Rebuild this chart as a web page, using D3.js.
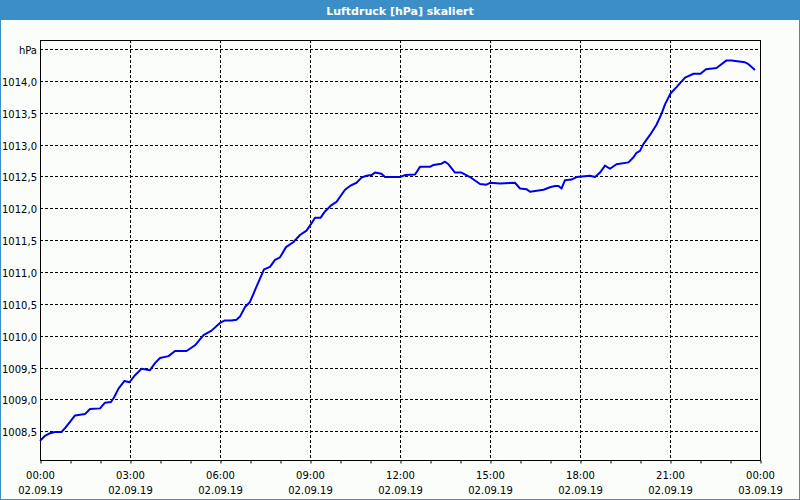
<!DOCTYPE html>
<html>
<head>
<meta charset="utf-8">
<script src="https://cdn.jsdelivr.net/npm/d3@7"></script>
<style>
  html, body { margin: 0; padding: 0; background: #fff; }
  svg { display: block; }
  text { font-family: "DejaVu Sans", sans-serif; }
</style>
</head>
<body>
<script>
// ---- Data ----
const chartTitle = "Luftdruck [hPa] skaliert";
const unitLabel = "hPa";
const times = ["2019-09-02 00:00","2019-09-02 00:10","2019-09-02 00:20","2019-09-02 00:30","2019-09-02 00:43","2019-09-02 00:50",
 "2019-09-02 01:00","2019-09-02 01:10","2019-09-02 01:20","2019-09-02 01:30","2019-09-02 01:40","2019-09-02 02:00","2019-09-02 02:10",
 "2019-09-02 02:22","2019-09-02 02:28","2019-09-02 02:37","2019-09-02 02:49","2019-09-02 02:59","2019-09-02 03:10","2019-09-02 03:23",
 "2019-09-02 03:40","2019-09-02 03:50","2019-09-02 04:00","2019-09-02 04:17","2019-09-02 04:30","2019-09-02 04:53","2019-09-02 05:10",
 "2019-09-02 05:27","2019-09-02 05:43","2019-09-02 06:00","2019-09-02 06:10","2019-09-02 06:23","2019-09-02 06:33","2019-09-02 06:40",
 "2019-09-02 06:50","2019-09-02 07:00","2019-09-02 07:13","2019-09-02 07:28","2019-09-02 07:40","2019-09-02 07:50","2019-09-02 08:00",
 "2019-09-02 08:12","2019-09-02 08:27","2019-09-02 08:40","2019-09-02 08:53","2019-09-02 09:02","2019-09-02 09:10","2019-09-02 09:21",
 "2019-09-02 09:30","2019-09-02 09:43","2019-09-02 09:53","2019-09-02 10:10","2019-09-02 10:20","2019-09-02 10:33","2019-09-02 10:43",
 "2019-09-02 10:53","2019-09-02 11:03","2019-09-02 11:10","2019-09-02 11:23","2019-09-02 11:30","2019-09-02 12:00","2019-09-02 12:10",
 "2019-09-02 12:30","2019-09-02 12:40","2019-09-02 13:00","2019-09-02 13:07","2019-09-02 13:23","2019-09-02 13:30","2019-09-02 13:37",
 "2019-09-02 13:50","2019-09-02 14:03","2019-09-02 14:20","2019-09-02 14:40","2019-09-02 14:53","2019-09-02 15:00","2019-09-02 15:20",
 "2019-09-02 15:50","2019-09-02 16:00","2019-09-02 16:13","2019-09-02 16:20","2019-09-02 16:47","2019-09-02 17:00","2019-09-02 17:10",
 "2019-09-02 17:17","2019-09-02 17:23","2019-09-02 17:30","2019-09-02 17:43","2019-09-02 17:53","2019-09-02 18:20","2019-09-02 18:30",
 "2019-09-02 18:40","2019-09-02 18:50","2019-09-02 19:00","2019-09-02 19:13","2019-09-02 19:37","2019-09-02 19:47","2019-09-02 19:53",
 "2019-09-02 20:00","2019-09-02 20:07","2019-09-02 20:20","2019-09-02 20:33","2019-09-02 20:43","2019-09-02 20:50","2019-09-02 21:01",
 "2019-09-02 21:13","2019-09-02 21:30","2019-09-02 21:47","2019-09-02 22:01","2019-09-02 22:12","2019-09-02 22:33","2019-09-02 22:53",
 "2019-09-02 23:03","2019-09-02 23:30","2019-09-02 23:37","2019-09-02 23:50"];
const values = [1008.35,1008.43,1008.47,1008.49,1008.49,1008.55,
 1008.65,1008.75,1008.76,1008.77,1008.85,1008.86,1008.95,
 1008.96,1009.03,1009.17,1009.29,1009.27,1009.38,1009.48,
 1009.46,1009.57,1009.65,1009.68,1009.76,1009.76,1009.85,
 1010.01,1010.08,1010.20,1010.24,1010.24,1010.25,1010.30,
 1010.45,1010.53,1010.77,1011.04,1011.08,1011.19,1011.23,
 1011.39,1011.47,1011.58,1011.65,1011.75,1011.85,1011.85,
 1011.95,1012.05,1012.10,1012.29,1012.35,1012.40,1012.48,
 1012.51,1012.52,1012.56,1012.54,1012.49,1012.49,1012.52,
 1012.53,1012.65,1012.65,1012.68,1012.70,1012.73,1012.69,
 1012.56,1012.56,1012.49,1012.38,1012.37,1012.40,1012.39,
 1012.40,1012.31,1012.30,1012.26,1012.29,1012.33,1012.35,
 1012.35,1012.31,1012.44,1012.45,1012.49,1012.51,1012.49,
 1012.56,1012.67,1012.62,1012.69,1012.72,1012.80,1012.87,
 1012.90,1013.01,1013.15,1013.31,1013.48,1013.63,1013.80,
 1013.90,1014.05,1014.11,1014.11,1014.18,1014.20,1014.32,
 1014.32,1014.29,1014.26,1014.17];
const yTickValues = [1008.5,1009.0,1009.5,1010.0,1010.5,1011.0,1011.5,1012.0,1012.5,1013.0,1013.5,1014.0,1014.5];
const xTickTimes = ["2019-09-02 00:00","2019-09-02 03:00","2019-09-02 06:00","2019-09-02 09:00","2019-09-02 12:00",
 "2019-09-02 15:00","2019-09-02 18:00","2019-09-02 21:00","2019-09-03 00:00"];
const yDomain = [1008.05, 1014.64];

// ---- Layout ----
const W = 800, H = 500;
const plot = {left: 40, right: 760, top: 40, bottom: 460};
const parse = d3.timeParse("%Y-%m-%d %H:%M");
const data = times.map((t, i) => ({t: parse(t), v: values[i]}));
const xTicks = xTickTimes.map(parse);

const svg = d3.select("body").append("svg").attr("width", W).attr("height", H);

// background + frame
svg.append("rect").attr("x", 0).attr("y", 0).attr("width", W).attr("height", H).attr("fill", "#3c8fc6");
svg.append("rect").attr("x", 1).attr("y", 20).attr("width", W - 2).attr("height", H - 21).attr("fill", "#fbfdfb");

svg.append("text").attr("x", W / 2).attr("y", 14.5).attr("text-anchor", "middle")
  .attr("fill", "#fff").attr("font-weight", "bold").attr("font-size", "11px").text(chartTitle);

const x = d3.scaleTime().domain([xTicks[0], xTicks[xTicks.length - 1]]).range([plot.left, plot.right]);
const y = d3.scaleLinear().domain(yDomain).range([plot.bottom, plot.top]);

// grid
const grid = svg.append("g").attr("stroke", "#000").attr("stroke-width", 1).attr("stroke-dasharray", "3,2");
grid.selectAll("line.h").data(yTickValues).join("line").attr("class", "h")
  .attr("x1", plot.left).attr("x2", plot.right)
  .attr("y1", d => Math.round(y(d)) + 0.5).attr("y2", d => Math.round(y(d)) + 0.5);
grid.selectAll("line.v").data(xTicks.slice(1, -1)).join("line").attr("class", "v")
  .attr("y1", plot.top).attr("y2", plot.bottom)
  .attr("x1", d => Math.round(x(d)) + 0.5).attr("x2", d => Math.round(x(d)) + 0.5);

// frame of plot
svg.append("rect").attr("x", plot.left + 0.5).attr("y", plot.top + 0.5)
  .attr("width", plot.right - plot.left).attr("height", plot.bottom - plot.top)
  .attr("fill", "none").attr("stroke", "#000").attr("stroke-width", 1);

// x axis (hourly minor ticks, labels every 3h)
const xAxis = d3.axisBottom(x).ticks(d3.timeHour.every(1)).tickSize(3).tickFormat("");
const gx = svg.append("g").attr("transform", `translate(0.5,${plot.bottom + 0.5})`).call(xAxis);
gx.select(".domain").remove();
gx.selectAll("line").attr("stroke", "#000");

const fmtTime = d3.timeFormat("%H:%M"), fmtDate = d3.timeFormat("%d.%m.%y");
const xl = svg.append("g").attr("font-size", "10px").attr("fill", "#000").attr("text-anchor", "middle");
xl.selectAll("text.t").data(xTicks).join("text").attr("class", "t")
  .attr("x", d => x(d) + 0.5).attr("y", 478.5).text(d => fmtTime(d));
xl.selectAll("text.d").data(xTicks).join("text").attr("class", "d")
  .attr("x", d => x(d) + 0.5).attr("y", 493.5).text(d => fmtDate(d));

// y axis labels
const fmtY = v => d3.format(".1f")(v).replace(".", ",");
svg.append("g").attr("font-size", "10px").attr("text-anchor", "end")
  .selectAll("text").data(yTickValues).join("text")
  .attr("x", 37).attr("y", d => Math.round(y(d)) + 4.5)
  .text((d, i) => i === yTickValues.length - 1 ? unitLabel : fmtY(d));

// line
const line = d3.line().x(d => x(d.t)).y(d => y(d.v));
svg.append("path").datum(data).attr("d", line).attr("fill", "none")
  .attr("stroke", "#0000e6").attr("stroke-width", 2).attr("stroke-linejoin", "round");
</script>
</body>
</html>
